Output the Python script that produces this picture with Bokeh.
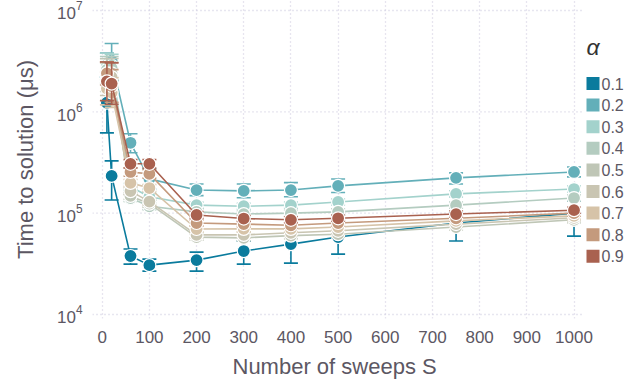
from bokeh.plotting import figure
from bokeh.models import Range1d, FixedTicker, ColumnDataSource, LinearScale, Title
from bokeh.core.properties import value
from bokeh.embed import file_html
from bokeh.resources import INLINE

# ---- data ----
sweeps = [10, 20, 60, 100, 200, 300, 400, 500, 750, 1000]
alphas = ["0.1", "0.2", "0.3", "0.4", "0.5", "0.6", "0.7", "0.8", "0.9"]
colors = ["#0a7b9d", "#63afb9", "#a3d2cc", "#b4ccc0", "#bfc6b6", "#c9c5b2",
          "#d6c3a8", "#c49a7d", "#a9614f"]

tts_01 = [1.23e6, 2.33e5, 3.78e4, 3.07e4, 3.44e4, 4.23e4, 4.95e4, 5.82e4, 8.0e4, 1.0e5]
tts_02 = [2.9e6, 3.2e6, 4.95e5, 2.18e5, 1.69e5, 1.66e5, 1.69e5, 1.86e5, 2.23e5, 2.55e5]
tts_03 = [2.8e6, 2.85e6, 1.82e5, 1.45e5, 1.2e5, 1.17e5, 1.2e5, 1.29e5, 1.55e5, 1.73e5]
tts_04 = [2.6e6, 2.7e6, 1.41e5, 1.17e5, 1.03e5, 9.8e4, 1.0e5, 1.03e5, 1.2e5, 1.41e5]
tts_05 = [2.3e6, 2.4e6, 1.48e5, 1.24e5, 5.8e4, 5.7e4, 6.0e4, 6.2e4, 7.3e4, 8.6e4]
tts_06 = [2.1e6, 2.2e6, 1.65e5, 1.3e5, 6.1e4, 6.1e4, 6.4e4, 6.7e4, 7.8e4, 9.0e4]
tts_07 = [1.7e6, 1.55e6, 1.99e5, 1.77e5, 6.98e4, 7.0e4, 7.0e4, 7.3e4, 8.4e4, 9.4e4]
tts_08 = [2.4e6, 1.8e6, 2.55e5, 2.44e5, 8.0e4, 7.8e4, 7.6e4, 8.0e4, 8.9e4, 1.0e5]
tts_09 = [2.0e6, 1.9e6, 3.07e5, 3.07e5, 9.6e4, 8.85e4, 8.6e4, 8.9e4, 9.8e4, 1.07e5]

# error bars: explicit low/high for 0.1 and 0.2
lo_01 = [6.2e5, 1.35e5, 3.14e4, 2.68e4, 2.68e4, 3.14e4, 3.21e4, 3.94e4, 5.31e4, 5.94e4]
hi_01 = [2.2e6, 3.28e5, 4.43e4, 3.52e4, 4.13e4, 5.3e4, 7.0e4, 8.1e4, 1.0e5, 1.32e5]
lo_02 = [2.2e6, 2.03e6, 3.94e5, 1.73e5, 1.49e5, 1.42e5, 1.45e5, 1.6e5, 1.94e5, 2.28e5]
hi_02 = [3.8e6, 4.72e6, 6.07e5, 2.74e5, 1.94e5, 1.94e5, 2.0e5, 2.17e5, 2.5e5, 2.85e5]
# relative error half-widths for the other series
rel_03 = [0.35, 0.30, 0.08, 0.08, 0.07, 0.07, 0.07, 0.07, 0.07, 0.07]
rel_04 = [0.35, 0.30, 0.08, 0.08, 0.07, 0.07, 0.07, 0.07, 0.07, 0.07]
rel_05 = [0.45, 0.40, 0.08, 0.08, 0.07, 0.07, 0.07, 0.07, 0.07, 0.07]
rel_06 = [0.45, 0.40, 0.08, 0.08, 0.07, 0.07, 0.07, 0.07, 0.07, 0.07]
rel_07 = [0.45, 0.40, 0.08, 0.08, 0.07, 0.07, 0.07, 0.07, 0.07, 0.07]
rel_08 = [0.30, 0.45, 0.10, 0.10, 0.07, 0.07, 0.07, 0.07, 0.07, 0.07]
rel_09 = [0.55, 0.60, 0.10, 0.10, 0.08, 0.07, 0.07, 0.07, 0.07, 0.07]

x_ticks = [0, 100, 200, 300, 400, 500, 600, 700, 800, 900, 1000]
y_ticks = [1e4, 1e5, 1e6, 1e7]

values = [tts_01, tts_02, tts_03, tts_04, tts_05, tts_06, tts_07, tts_08, tts_09]
rels = [None, None, rel_03, rel_04, rel_05, rel_06, rel_07, rel_08, rel_09]
lows = [lo_01, lo_02]
highs = [hi_01, hi_02]

FONT = "Liberation Sans"
TXT = "#5c5763"
GRID = "#cfcce0"

# frame spans page pixels x 92..639, y 0..318; data area ends at x=583
p = figure(width=639, height=388, output_backend="svg", toolbar_location=None,
           y_axis_type="log", x_range=Range1d(-20.56, 1138.8),
           y_range=Range1d(9.13e3, 1.255e7),
           min_border_left=92, min_border_right=0, min_border_top=0,
           min_border_bottom=70)
p.outline_line_color = None
p.background_fill_color = "white"
p.border_fill_color = "white"
# pixel-like helper ranges for grid extent and legend
p.extra_x_ranges = {"px": Range1d(92, 639)}
p.extra_y_ranges = {"py": Range1d(318, 0)}
p.extra_x_scales = {"px": LinearScale()}
p.extra_y_scales = {"py": LinearScale()}

# grid
p.ygrid.visible = False
p.xgrid.grid_line_color = GRID
p.xgrid.grid_line_dash = "1 3"
p.xgrid.grid_line_width = 1.3
p.segment(x0=92, x1=583, y0=y_ticks, y1=y_ticks, x_range_name="px",
          line_color=GRID, line_dash="1 3", line_width=1.3)

for i, (vals, col) in enumerate(zip(values, colors)):
    if rels[i] is None:
        lo, hi = lows[i], highs[i]
    else:
        lo = [v / (1 + r) for v, r in zip(vals, rels[i])]
        hi = [v * (1 + r) for v, r in zip(vals, rels[i])]
    src = ColumnDataSource(dict(x=sweeps, y=vals, lo=lo, hi=hi))
    p.line("x", "y", source=src, line_color=col, line_width=1.6)
    p.segment("x", "lo", "x", "hi", source=src, line_color=col, line_width=1.6)
    p.scatter("x", "lo", source=src, marker="dash", size=14, line_color=col, line_width=1.6)
    p.scatter("x", "hi", source=src, marker="dash", size=14, line_color=col, line_width=1.6)
    p.scatter("x", "y", source=src, marker="circle", size=13, fill_color=col,
              line_color="white", line_width=1.2)

# axes
p.xaxis.ticker = FixedTicker(ticks=x_ticks)
p.yaxis.ticker = FixedTicker(ticks=y_ticks)
for ax in [p.xaxis[0], p.yaxis[0]]:
    ax.axis_line_color = None
    ax.major_tick_line_color = None
    ax.minor_tick_line_color = None
    ax.major_label_text_font = FONT
    ax.major_label_text_font_size = "17px"
    ax.major_label_text_color = TXT
    ax.axis_label_text_font = FONT
    ax.axis_label_text_font_size = "22px"
    ax.axis_label_text_font_style = "normal"
    ax.axis_label_text_color = TXT
p.yaxis.axis_label = "Time to solution (μs)"
p.xaxis.major_label_standoff = 6
p.yaxis.major_label_standoff = 4
p.yaxis.axis_label_standoff = 16

# x-axis title, centred under the data area (not the extended frame)
xt = Title(text="Number of sweeps S", align="left", offset=140,
           text_font=FONT, text_font_size="22px", text_font_style="normal",
           text_color=TXT, standoff=12)
p.add_layout(xt, "below")

# legend drawn in pixel-like coordinates at the right of the data area
row_y = [83 + 21.6 * k for k in range(len(alphas))]
lsrc = ColumnDataSource(dict(y=row_y, label=alphas, color=colors))
p.rect(x=592.5, y="y", width=13, height=13, source=lsrc, fill_color="color",
       line_color=None, x_range_name="px", y_range_name="py")
p.text(x=601, y="y", text="label", source=lsrc, text_font=value(FONT),
       text_font_size="16px", text_color=TXT, text_baseline="middle",
       x_range_name="px", y_range_name="py")
p.text(x=[586], y=[46], text=["α"], text_font=value(FONT), text_font_size="23px",
       text_font_style="italic", text_color="#333333", text_baseline="middle",
       x_range_name="px", y_range_name="py")

open("out.html", "w").write(file_html(p, INLINE))
